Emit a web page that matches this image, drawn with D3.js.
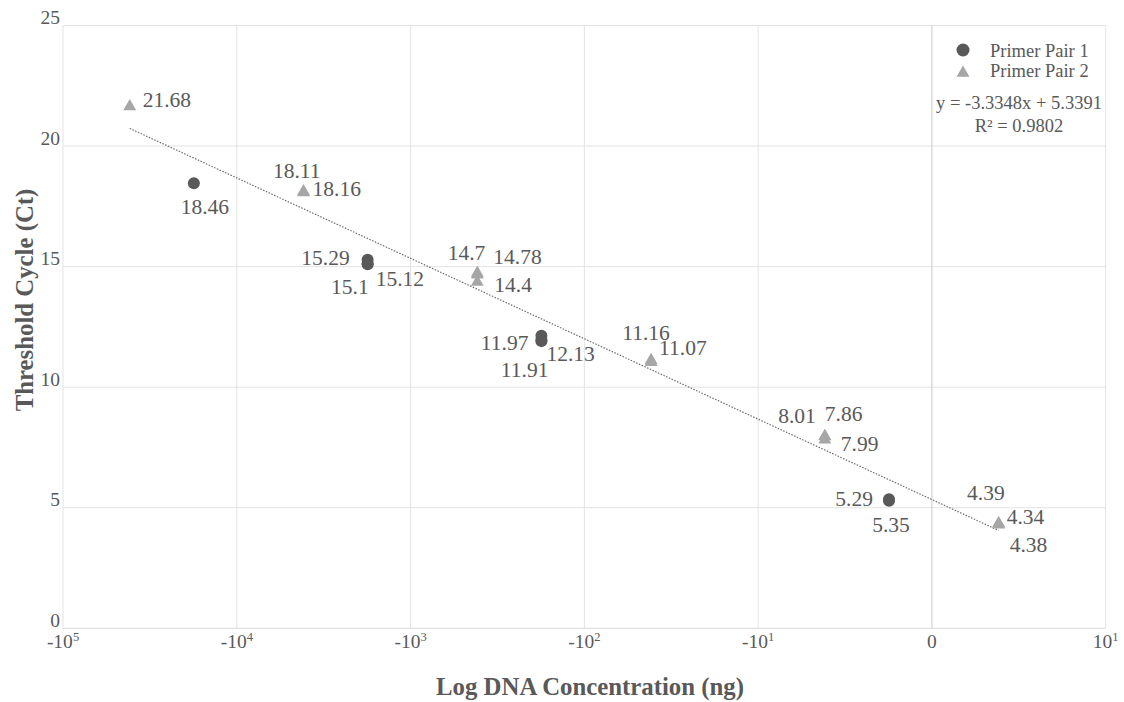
<!DOCTYPE html>
<html>
<head>
<meta charset="utf-8">
<script src="https://cdn.jsdelivr.net/npm/d3@7"></script>
<style>
  body { margin: 0; background: #fff; }
  svg { display: block; }
  svg text { font-family: "Liberation Serif", "DejaVu Serif", serif; }
</style>
</head>
<body>
<div id="chart"></div>
<script>
// log DNA concentration (x) and threshold cycle (y) per primer pair
const pair1Log = [-4.247, -3.247, -3.247, -3.247, -2.247, -2.247, -2.247, -0.247, -0.247];
const pair1Ct = [18.46, 15.29, 15.1, 15.12, 11.97, 12.13, 11.91, 5.29, 5.35];
const pair2Log = [-4.616, -3.616, -3.616, -2.616, -2.616, -2.616, -1.616, -1.616, -0.616, -0.616, -0.616, 0.384, 0.384, 0.384];
const pair2Ct = [21.68, 18.11, 18.16, 14.7, 14.78, 14.4, 11.16, 11.07, 8.01, 7.86, 7.99, 4.39, 4.34, 4.38];

const xTicks = [-5, -4, -3, -2, -1, 0, 1];
const yTicks = [0, 5, 10, 15, 20, 25];
const seriesNames = ["Primer Pair 1", "Primer Pair 2"];
const trendSlope = -3.3348;
const trendIntercept = 5.3391;
const trendR2 = 0.9802;

// where each data label sits relative to its marker: [anchor, dx, dy]
const pair1LabelPos = [["middle", 11, 31], ["end", -18, 5], ["end", 1, 30], ["start", 8, 22],
  ["end", -13, 10], ["start", 5, 25], ["end", 7, 36], ["end", -16, 5.5], ["middle", 2, 33]];
const pair2LabelPos = [["start", 13, 1], ["end", 17, -14], ["start", 9, 6], ["end", 8, -14],
  ["start", 16, -8], ["start", 17, 11], ["middle", -5, -19.5], ["start", 8, -6], ["end", -9, -12],
  ["start", 0, -18], ["start", 16, 15], ["end", 6, -22], ["start", 8, 0], ["start", 11, 29.5]];

const width = 1124, height = 702;
const margin = {left: 63, top: 25.5, right: 18.3, bottom: 73.7};
const w = width - margin.left - margin.right;
const h = height - margin.top - margin.bottom;

const textColor = "#595959";
const color1 = "#595959";
const color2 = "#a6a6a6";

const x = d3.scaleLinear().domain([-5, 1]).range([0, w]);
const y = d3.scaleLinear().domain([0, 25]).range([h, 0]);

const svg = d3.select("#chart").append("svg")
    .attr("width", width)
    .attr("height", height);

const g = svg.append("g")
    .attr("transform", `translate(${margin.left}, ${margin.top})`);

// grid
g.selectAll(".hgrid").data(yTicks).enter().append("line")
    .attr("x1", 0).attr("x2", w)
    .attr("y1", d => y(d)).attr("y2", d => y(d))
    .attr("stroke", d => d === 0 ? "#d9d9d9" : "#e3e3e3")
    .attr("stroke-width", 1);

g.selectAll(".vgrid").data(xTicks).enter().append("line")
    .attr("x1", d => x(d)).attr("x2", d => x(d))
    .attr("y1", 0).attr("y2", h)
    .attr("stroke", d => d === 0 ? "#c9c9c9" : "#e3e3e3")
    .attr("stroke-width", 1);

// y tick labels
g.selectAll(".ytick").data(yTicks).enter().append("text")
    .attr("x", -3)
    .attr("y", d => y(d) - 1.5)
    .attr("text-anchor", "end")
    .attr("font-size", 19.5)
    .attr("fill", textColor)
    .text(d => d);

// x tick labels, formatted as powers of ten
const xl = g.selectAll(".xtick").data(xTicks).enter().append("text")
    .attr("x", d => x(d))
    .attr("y", h + 20)
    .attr("text-anchor", "middle")
    .attr("font-size", 19.5)
    .attr("fill", textColor);

xl.each(function(d) {
    const t = d3.select(this);
    if (d === 0) { t.text("0"); return; }
    t.append("tspan").text(d < 0 ? "-10" : "10");
    t.append("tspan").attr("dy", -7).attr("font-size", 12.5).text(Math.abs(d));
});

// trendline
const trendX = d3.extent(pair1Log.concat(pair2Log));
g.append("line")
    .attr("x1", x(trendX[0])).attr("y1", y(trendSlope * trendX[0] + trendIntercept))
    .attr("x2", x(trendX[1])).attr("y2", y(trendSlope * trendX[1] + trendIntercept))
    .attr("stroke", "#6b6b6b")
    .attr("stroke-width", 1.2)
    .attr("stroke-dasharray", "1.5,1.5");

const tri = d3.symbol().type(d3.symbolTriangle).size(72);

// primer pair 1: circles
g.selectAll(".p1").data(pair1Ct).enter().append("circle")
    .attr("cx", (d, i) => x(pair1Log[i]))
    .attr("cy", d => y(d))
    .attr("r", 6)
    .attr("fill", color1);

// primer pair 2: triangles
g.selectAll(".p2").data(pair2Ct).enter().append("path")
    .attr("d", tri)
    .attr("transform", (d, i) => `translate(${x(pair2Log[i])}, ${y(d) + 1})`)
    .attr("fill", color2);

// data labels
function addLabels(logs, cts, pos) {
    g.selectAll(null).data(cts).enter().append("text")
        .attr("x", (d, i) => x(logs[i]) + pos[i][1])
        .attr("y", (d, i) => y(d) + pos[i][2])
        .attr("text-anchor", (d, i) => pos[i][0])
        .attr("font-size", 21.5)
        .attr("fill", textColor)
        .text(d => d);
}
addLabels(pair1Log, pair1Ct, pair1LabelPos);
addLabels(pair2Log, pair2Ct, pair2LabelPos);

// legend
const legend = svg.append("g").attr("transform", "translate(963, 50)");
legend.append("circle").attr("cx", 0).attr("cy", 0).attr("r", 6.5).attr("fill", color1);
legend.append("path").attr("d", tri).attr("transform", "translate(0, 23)").attr("fill", color2);
legend.selectAll(".lt").data(seriesNames).enter().append("text")
    .attr("x", 27)
    .attr("y", (d, i) => 6.5 + i * 20)
    .attr("font-size", 18.5)
    .attr("fill", textColor)
    .text(d => d);

svg.append("text")
    .attr("x", 1019).attr("y", 109)
    .attr("text-anchor", "middle")
    .attr("font-size", 18.5)
    .attr("fill", textColor)
    .text(`y = ${trendSlope}x + ${trendIntercept}`);
svg.append("text")
    .attr("x", 1019).attr("y", 131.5)
    .attr("text-anchor", "middle")
    .attr("font-size", 18.5)
    .attr("fill", textColor)
    .text(`R² = ${trendR2}`);

// axis titles
svg.append("text")
    .attr("x", 590).attr("y", 695)
    .attr("text-anchor", "middle")
    .attr("font-size", 24.8)
    .attr("font-weight", "bold")
    .attr("fill", textColor)
    .text("Log DNA Concentration (ng)");

svg.append("text")
    .attr("transform", "translate(33, 300) rotate(-90)")
    .attr("text-anchor", "middle")
    .attr("font-size", 24.8)
    .attr("font-weight", "bold")
    .attr("fill", textColor)
    .text("Threshold Cycle (Ct)");
</script>
</body>
</html>
